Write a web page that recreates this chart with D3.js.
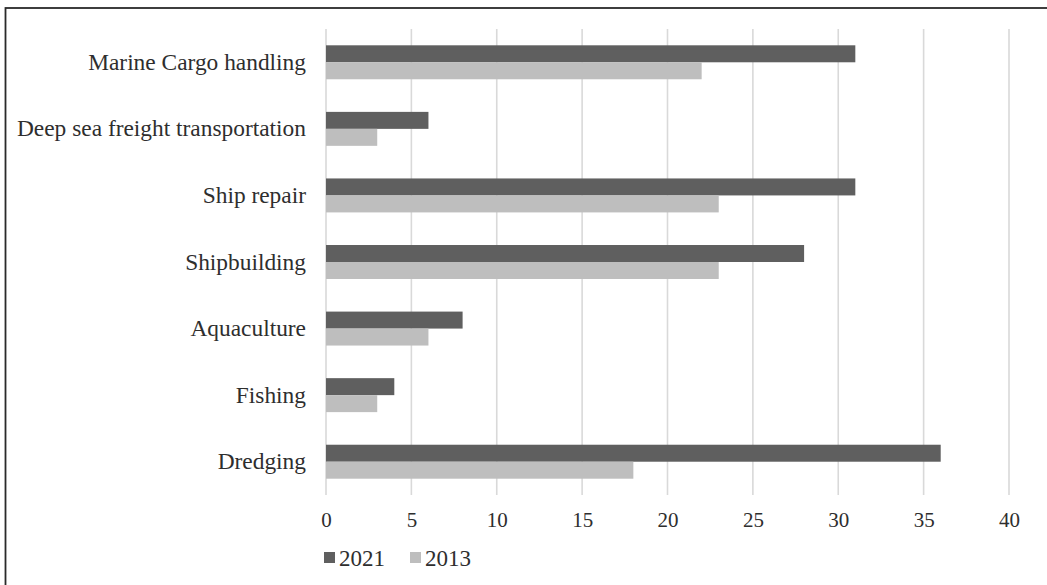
<!DOCTYPE html>
<html>
<head>
<meta charset="utf-8">
<script src="https://cdn.jsdelivr.net/npm/d3@7/dist/d3.min.js"></script>
<style>
  html, body { margin: 0; padding: 0; background: #fff; }
  svg { display: block; }
  svg text { font-family: 'Liberation Serif', 'DejaVu Serif', 'Times New Roman', serif !important; fill: #2e2e2e; }
</style>
</head>
<body>
<svg id="chart" width="1047" height="585"></svg>
<script>
const categories = ["Marine Cargo handling", "Deep sea freight transportation", "Ship repair", "Shipbuilding", "Aquaculture", "Fishing", "Dredging"];
const seriesNames = ["2021", "2013"];
const values2021 = [31, 6, 31, 28, 8, 4, 36];
const values2013 = [22, 3, 23, 23, 6, 3, 18];
const xTicks = [0, 5, 10, 15, 20, 25, 30, 35, 40];
const colors = ["#5f5f5f", "#bebebe"];
const FONT = "Liberation Serif";

const svg = d3.select("#chart");

// outer frame
svg.append("rect")
  .attr("x", 5.5).attr("y", 8).attr("width", 1200).attr("height", 800)
  .attr("fill", "none").attr("stroke", "#2a2a2a").attr("stroke-width", 1.8);

const plot = { left: 326, right: 1009, top: 29, bottom: 495 };

const x = d3.scaleLinear().domain([0, 40]).range([plot.left, plot.right]);
const y = d3.scaleBand().domain(categories).range([plot.top, plot.bottom]).padding(0);
const ySub = d3.scaleBand().domain(seriesNames).range([0, y.bandwidth()]).paddingInner(0).paddingOuter(0.96);
const color = d3.scaleOrdinal().domain(seriesNames).range(colors);

// gridlines
svg.append("g").selectAll("line").data(xTicks).join("line")
  .attr("x1", d => x(d)).attr("x2", d => x(d))
  .attr("y1", plot.top).attr("y2", plot.bottom)
  .attr("stroke", "#d9d9d9").attr("stroke-width", 1.6);

// bars
const rows = categories.map((c, i) => ({ cat: c, vals: [
  { s: "2021", v: values2021[i] }, { s: "2013", v: values2013[i] } ] }));

const g = svg.append("g").selectAll("g").data(rows).join("g")
  .attr("transform", d => `translate(0,${y(d.cat)})`);
g.selectAll("rect").data(d => d.vals).join("rect")
  .attr("x", x(0))
  .attr("y", d => ySub(d.s))
  .attr("width", d => x(d.v) - x(0))
  .attr("height", ySub.bandwidth())
  .attr("fill", d => color(d.s));

// category labels
const yAxis = d3.axisLeft(y).tickSize(0).tickPadding(20);
const ya = svg.append("g").attr("transform", `translate(${plot.left},0)`).call(yAxis)
  .attr("font-family", FONT);
ya.select(".domain").remove();
ya.selectAll("text").attr("font-size", 23.4).attr("font-family", FONT).attr("fill", "#2e2e2e");

// x axis labels
const xAxis = d3.axisBottom(x).tickValues(xTicks).tickSize(0).tickPadding(0);
const xa = svg.append("g").attr("transform", `translate(0,${plot.bottom})`).call(xAxis)
  .attr("font-family", FONT);
xa.select(".domain").remove();
xa.selectAll("text").attr("font-size", 21).attr("font-family", FONT).attr("fill", "#2e2e2e")
  .attr("dy", null).attr("y", 32);

// legend
const legendX = d3.scaleOrdinal().domain(seriesNames).range([324, 410]);
const lg = svg.append("g").selectAll("g").data(seriesNames).join("g")
  .attr("transform", d => `translate(${legendX(d)},552)`);
lg.append("rect").attr("width", 11).attr("height", 11).attr("fill", d => color(d));
lg.append("text").attr("x", 15).attr("y", 14).attr("font-size", 23).attr("font-family", FONT).text(d => d);
</script>
</body>
</html>
